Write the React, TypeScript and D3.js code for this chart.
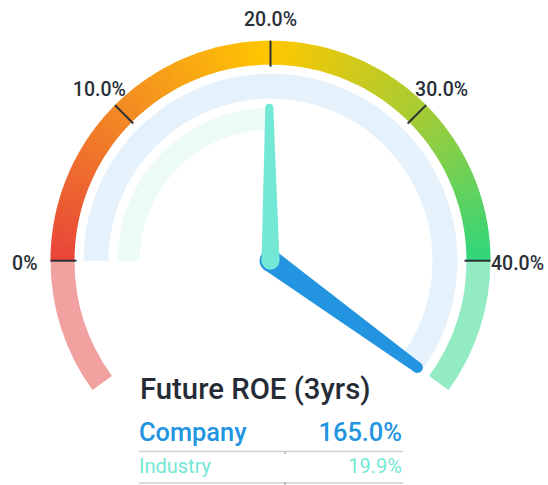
import React from "react";
import * as d3 from "d3";

// ---- data ----
const gaugeDomain = [-8, 48];
const bandStart = 0;
const bandEnd = 40;
const tickValues = [0, 10, 20, 30, 40];
const tickLabels = ["0%", "10.0%", "20.0%", "30.0%", "40.0%"];
const colorStopValues = [0, 10, 20, 30, 40];
const colorStopColors = ["#E8443A", "#F38A24", "#FFC700", "#A6CC34", "#2ED67C"];
const lowZoneColor = "#F2A1A1";
const highZoneColor = "#93EBC4";
const seriesNames = ["Company", "Industry"];
const seriesValues = [165.0, 19.9];
const seriesColors = ["#2394DF", "#73E8D5"];
const seriesBandColors = ["#E6F2FB", "#EDFBF8"];
const title = "Future ROE (3yrs)";

const W = 548;
const H = 485;
const cx = 270.5;
const cy = 260.7;

const angle = d3
  .scaleLinear()
  .domain(gaugeDomain)
  .range([(-126 * Math.PI) / 180, (126 * Math.PI) / 180])
  .clamp(true);

const pt = (r: number, a: number): [number, number] => [cx + r * Math.sin(a), cy - r * Math.cos(a)];

function Needle({ a, w0, rTip, w1, fill }: { a: number; w0: number; rTip: number; w1: number; fill: string }) {
  const r1 = rTip - w1 / 2;
  const px = Math.cos(a);
  const py = Math.sin(a);
  const [tx, ty] = pt(r1, a);
  const poly = [
    [cx + (px * w0) / 2, cy + (py * w0) / 2],
    [tx + (px * w1) / 2, ty + (py * w1) / 2],
    [tx - (px * w1) / 2, ty - (py * w1) / 2],
    [cx - (px * w0) / 2, cy - (py * w0) / 2],
  ];
  return (
    <g fill={fill}>
      <polygon points={poly.map((p) => p.join(",")).join(" ")} />
      <circle cx={cx} cy={cy} r={w0 / 2} />
      <circle cx={tx} cy={ty} r={w1 / 2} />
    </g>
  );
}

export default function App() {
  const color = d3
    .scaleLinear<string>()
    .domain(colorStopValues)
    .range(colorStopColors)
    .interpolate(d3.interpolateRgb);

  const outer = d3.arc().innerRadius(196).outerRadius(220);
  const segs: { a0: number; a1: number; c: string }[] = [];
  const step = 0.25;
  for (let v = bandStart; v < bandEnd; v += step) {
    segs.push({
      a0: angle(v),
      a1: Math.min(angle(v + step) + 0.004, angle(bandEnd)),
      c: color(v + step / 2),
    });
  }

  const blueBand = d3.arc().innerRadius(162).outerRadius(187);
  const tealBand = d3.arc().innerRadius(131).outerRadius(153);

  const font = "Roboto, 'Noto Sans', sans-serif";

  return (
    <svg
      width={W}
      height={H}
      style={{ position: "absolute", left: 0, top: 0, background: "#fff" }}
      fontFamily={font}
    >
      <g transform={`translate(${cx},${cy})`}>
        {/* outer zones */}
        <path
          d={outer({ startAngle: angle(gaugeDomain[0]), endAngle: angle(bandStart) } as any) || ""}
          fill={lowZoneColor}
        />
        <path
          d={outer({ startAngle: angle(bandEnd), endAngle: angle(gaugeDomain[1]) } as any) || ""}
          fill={highZoneColor}
        />
        {segs.map((s, i) => (
          <path key={i} d={outer({ startAngle: s.a0, endAngle: s.a1 } as any) || ""} fill={s.c} />
        ))}
        {/* value bands */}
        <path
          d={blueBand({ startAngle: angle(0), endAngle: angle(seriesValues[0]) } as any) || ""}
          fill={seriesBandColors[0]}
        />
        <path
          d={tealBand({ startAngle: angle(0), endAngle: angle(seriesValues[1]) } as any) || ""}
          fill={seriesBandColors[1]}
        />
      </g>

      {/* ticks */}
      {tickValues.map((t, i) => {
        const a = angle(t);
        const [x1, y1] = pt(194, a);
        const [x2, y2] = pt(220, a);
        return <line key={i} x1={x1} y1={y1} x2={x2} y2={y2} stroke="#2b2f33" strokeWidth={2} />;
      })}
      {tickValues.map((t, i) => {
        const a = angle(t);
        const s = Math.sin(a);
        let anchor = "middle";
        let r = 242;
        let extra = 0;
        if (s < -0.99) {
          anchor = "end";
          r = 233;
          extra = 2;
        } else if (s > 0.99) {
          anchor = "start";
          r = 220.5;
          extra = 2;
        }
        const [x, y] = pt(r, a);
        return (
          <text
            key={i}
            x={x}
            y={y + extra}
            dy="0.35em"
            textAnchor={anchor}
            fontSize={19.5}
            fontWeight={500}
            fill="#2a2f38"
          >
            {tickLabels[i]}
          </text>
        );
      })}

      {/* needles */}
      <Needle a={angle(seriesValues[0])} w0={22} rTip={187} w1={11} fill={seriesColors[0]} />
      <Needle a={angle(seriesValues[1])} w0={18} rTip={157} w1={8} fill={seriesColors[1]} />

      {/* legend table */}
      <text x={140} y={399} fontSize={29.3} fontWeight={500} fill="#262C36">
        {title}
      </text>
      <text x={139} y={441} fontSize={25.4} fontWeight={500} fill={seriesColors[0]}>
        {seriesNames[0]}
      </text>
      <text x={402} y={441} fontSize={25.4} fontWeight={500} fill={seriesColors[0]} textAnchor="end">
        {seriesValues[0].toFixed(1) + "%"}
      </text>
      <line x1={139} x2={403} y1={451.5} y2={451.5} stroke="#D0D0D0" strokeWidth={1.5} />
      <line x1={285} x2={285} y1={451} y2={454} stroke="#999" strokeWidth={1} />
      <text x={139} y={473} fontSize={20} fill={seriesColors[1]}>
        {seriesNames[1]}
      </text>
      <text x={402} y={473} fontSize={20} fill={seriesColors[1]} textAnchor="end">
        {seriesValues[1].toFixed(1) + "%"}
      </text>
      <line x1={139} x2={403} y1={483} y2={483} stroke="#D0D0D0" strokeWidth={1.5} />
      <line x1={285} x2={285} y1={482} y2={485} stroke="#999" strokeWidth={1} />
    </svg>
  );
}
